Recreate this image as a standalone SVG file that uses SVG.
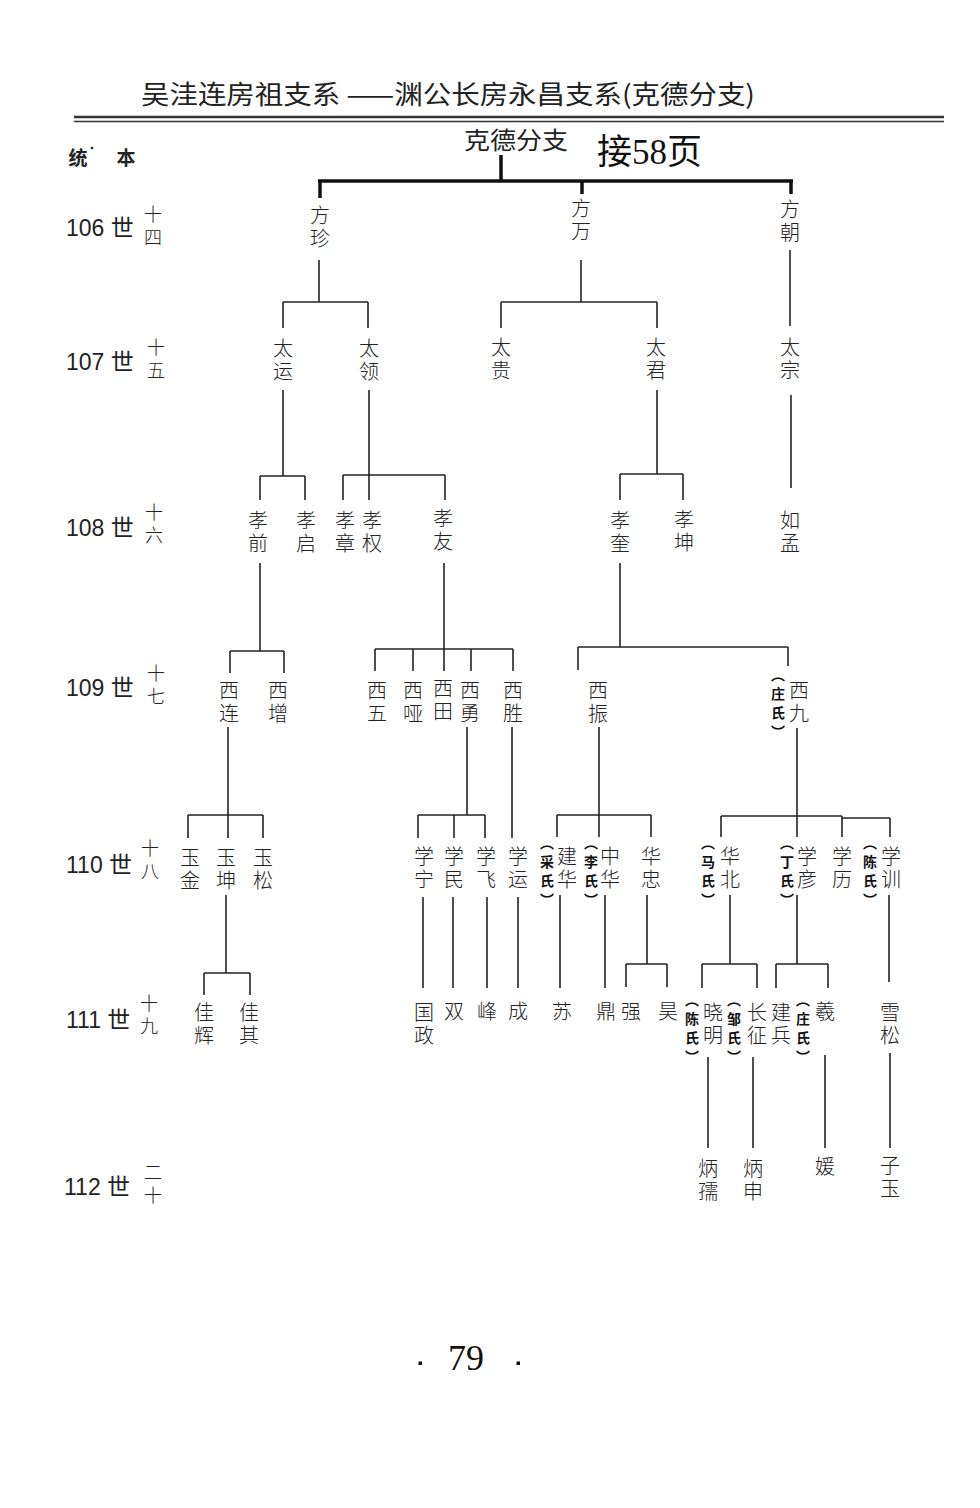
<svg xmlns="http://www.w3.org/2000/svg" width="980" height="1508" viewBox="0 0 980 1508">
<style>
.n{font-family:"Noto Sans CJK SC","Noto Sans CJK TC",sans-serif;font-size:20px;font-weight:300;fill:#222;text-anchor:middle;writing-mode:vertical-rl;letter-spacing:3px}
.sp{font-family:"Noto Sans CJK SC",sans-serif;font-size:14px;font-weight:700;fill:#111;text-anchor:middle;writing-mode:vertical-rl;letter-spacing:5px}
.g{font-family:"Liberation Sans","Noto Sans CJK SC",sans-serif;font-size:23px;fill:#222}
.gs{font-family:"Noto Sans CJK SC",sans-serif;font-size:18px;font-weight:300;fill:#222;text-anchor:middle;writing-mode:vertical-rl;letter-spacing:5px}
.c line{stroke:#222;stroke-width:1.6}
.t line{stroke:#111;stroke-width:3.5}
</style>
<rect width="980" height="1508" fill="#fff"/>
<g id="header">
<text x="141" y="104" textLength="614" lengthAdjust="spacingAndGlyphs" style="font-family:'Noto Sans CJK SC',sans-serif;font-size:26px;fill:#222">吴洼连房祖支系 ——渊公长房永昌支系(克德分支)</text>
<line x1="74" y1="117" x2="944" y2="117" stroke="#333" stroke-width="2.5"/>
<line x1="74" y1="121.5" x2="944" y2="121.5" stroke="#333" stroke-width="1.5"/>
<text x="78" y="165" text-anchor="middle" style="font-family:'Noto Sans CJK SC',sans-serif;font-size:19px;font-weight:700;fill:#222">统</text>
<circle cx="92" cy="148" r="1.3" fill="#222"/>
<text x="126" y="165" text-anchor="middle" style="font-family:'Noto Sans CJK SC',sans-serif;font-size:19px;font-weight:700;fill:#222">本</text>
<text x="464" y="149" textLength="104" lengthAdjust="spacingAndGlyphs" style="font-family:'Noto Sans CJK SC',sans-serif;font-size:24px;fill:#222">克德分支</text>
<text x="597" y="164" style="font-family:'Liberation Serif','Noto Sans CJK SC',serif;font-size:35px;fill:#111"><tspan>接</tspan><tspan style="font-family:'Liberation Serif',serif">58</tspan><tspan>页</tspan></text>
</g>
<g id="generations">
<text class="g" x="66" y="236">106 世</text><text class="gs" x="153" y="228">十四</text>
<text class="g" x="66" y="370">107 世</text><text class="gs" x="156" y="361">十五</text>
<text class="g" x="66" y="536">108 世</text><text class="gs" x="154" y="526">十六</text>
<text class="g" x="66" y="696">109 世</text><text class="gs" x="156" y="687">十七</text>
<text class="g" x="66" y="873">110 世</text><text class="gs" x="150" y="862">十八</text>
<text class="g" x="66" y="1028">111 世</text><text class="gs" x="149" y="1017">十九</text>
<text class="g" x="64" y="1195">112 世</text><text class="gs" x="153" y="1186">二十</text>
</g>
<g id="connectors">
<g class="t">
<line x1="501" y1="155" x2="501" y2="181"/>
<line x1="318" y1="181" x2="793" y2="181"/>
<line x1="320" y1="181" x2="320" y2="198"/>
<line x1="582" y1="181" x2="582" y2="194"/>
<line x1="791" y1="181" x2="791" y2="194"/>
</g>
<g class="c">
<line x1="319" y1="260" x2="319" y2="302"/><line x1="283" y1="302" x2="368" y2="302"/><line x1="283" y1="302" x2="283" y2="328"/><line x1="368" y1="302" x2="368" y2="328"/>
<line x1="581" y1="260" x2="581" y2="302"/><line x1="501" y1="302" x2="657" y2="302"/><line x1="501" y1="302" x2="501" y2="328"/><line x1="657" y1="302" x2="657" y2="328"/>
<line x1="790" y1="250" x2="790" y2="326"/>
<line x1="283" y1="390" x2="283" y2="476"/><line x1="260" y1="476" x2="305" y2="476"/><line x1="260" y1="476" x2="260" y2="500"/><line x1="305" y1="476" x2="305" y2="500"/>
<line x1="369" y1="390" x2="369" y2="500"/><line x1="343" y1="475" x2="445" y2="475"/><line x1="343" y1="475" x2="343" y2="500"/><line x1="445" y1="475" x2="445" y2="500"/>
<line x1="657" y1="390" x2="657" y2="474"/><line x1="620" y1="474" x2="683" y2="474"/><line x1="620" y1="474" x2="620" y2="500"/><line x1="683" y1="474" x2="683" y2="500"/>
<line x1="791" y1="395" x2="791" y2="488"/>
<line x1="260" y1="563" x2="260" y2="651"/><line x1="230" y1="651" x2="284" y2="651"/><line x1="230" y1="651" x2="230" y2="673"/><line x1="284" y1="651" x2="284" y2="673"/>
<line x1="444" y1="563" x2="444" y2="671"/><line x1="375" y1="649" x2="513" y2="649"/><line x1="375" y1="649" x2="375" y2="671"/><line x1="413" y1="649" x2="413" y2="671"/><line x1="471" y1="649" x2="471" y2="671"/><line x1="513" y1="649" x2="513" y2="671"/>
<line x1="620" y1="563" x2="620" y2="647"/><line x1="578" y1="647" x2="788" y2="647"/><line x1="578" y1="647" x2="578" y2="670"/><line x1="788" y1="647" x2="788" y2="666"/>
<line x1="228" y1="727" x2="228" y2="838"/><line x1="188" y1="815" x2="263" y2="815"/><line x1="188" y1="815" x2="188" y2="838"/><line x1="263" y1="815" x2="263" y2="838"/>
<line x1="467" y1="727" x2="467" y2="815"/><line x1="418" y1="815" x2="485" y2="815"/><line x1="418" y1="815" x2="418" y2="838"/><line x1="454" y1="815" x2="454" y2="838"/><line x1="485" y1="815" x2="485" y2="838"/>
<line x1="512" y1="727" x2="512" y2="838"/>
<line x1="599" y1="727" x2="599" y2="837"/><line x1="557" y1="815" x2="651" y2="815"/><line x1="557" y1="815" x2="557" y2="837"/><line x1="651" y1="815" x2="651" y2="837"/>
<line x1="797" y1="728" x2="797" y2="837"/><line x1="721" y1="816" x2="842" y2="816"/><line x1="842" y1="818" x2="890" y2="818"/><line x1="721" y1="816" x2="721" y2="837"/><line x1="842" y1="816" x2="842" y2="837"/><line x1="890" y1="818" x2="890" y2="837"/>
<line x1="226" y1="895" x2="226" y2="973"/><line x1="204" y1="973" x2="250" y2="973"/><line x1="204" y1="973" x2="204" y2="995"/><line x1="250" y1="973" x2="250" y2="995"/>
<line x1="423" y1="897" x2="423" y2="988"/>
<line x1="453" y1="897" x2="453" y2="988"/>
<line x1="487" y1="897" x2="487" y2="988"/>
<line x1="518" y1="897" x2="518" y2="988"/>
<line x1="560" y1="895" x2="560" y2="988"/>
<line x1="605" y1="895" x2="605" y2="988"/>
<line x1="647" y1="895" x2="647" y2="964"/><line x1="626" y1="964" x2="667" y2="964"/><line x1="626" y1="964" x2="626" y2="987"/><line x1="667" y1="964" x2="667" y2="987"/>
<line x1="730" y1="895" x2="730" y2="964"/><line x1="702" y1="964" x2="757" y2="964"/><line x1="702" y1="964" x2="702" y2="988"/><line x1="757" y1="964" x2="757" y2="988"/>
<line x1="797" y1="895" x2="797" y2="964"/><line x1="776" y1="964" x2="828" y2="964"/><line x1="776" y1="964" x2="776" y2="988"/><line x1="828" y1="964" x2="828" y2="988"/>
<line x1="889" y1="895" x2="889" y2="982"/>
<line x1="708" y1="1057" x2="708" y2="1148"/>
<line x1="753" y1="1057" x2="753" y2="1148"/>
<line x1="825" y1="1055" x2="825" y2="1148"/>
<line x1="890" y1="1053" x2="890" y2="1148"/>
</g>
</g>
<g id="n-fangzhen"><text class="n" x="320" y="228">方珍</text></g>
<g id="n-fangwan"><text class="n" x="581" y="221">方万</text></g>
<g id="n-fangchao"><text class="n" x="790" y="222">方朝</text></g>
<g id="n-taiyun"><text class="n" x="283" y="361">太运</text></g>
<g id="n-tailing"><text class="n" x="369" y="361">太领</text></g>
<g id="n-taigui"><text class="n" x="501" y="360">太贵</text></g>
<g id="n-taijun"><text class="n" x="656" y="360">太君</text></g>
<g id="n-taizong"><text class="n" x="790" y="360">太宗</text></g>
<g id="n-xiaoqian"><text class="n" x="258" y="533">孝前</text></g>
<g id="n-xiaoqi"><text class="n" x="306" y="533">孝启</text></g>
<g id="n-xiaozhang"><text class="n" x="345" y="533">孝章</text></g>
<g id="n-xiaoquan"><text class="n" x="372" y="533">孝权</text></g>
<g id="n-xiaoyou"><text class="n" x="443" y="531">孝友</text></g>
<g id="n-xiaokui"><text class="n" x="620" y="533">孝奎</text></g>
<g id="n-xiaokun"><text class="n" x="684" y="532">孝坤</text></g>
<g id="n-rumeng"><text class="n" x="790" y="533">如孟</text></g>
<g id="n-xilian"><text class="n" x="229" y="703">西连</text></g>
<g id="n-xizeng"><text class="n" x="278" y="703">西增</text></g>
<g id="n-xiwu"><text class="n" x="377" y="703">西五</text></g>
<g id="n-xiya"><text class="n" x="413" y="703">西哑</text></g>
<g id="n-xitian"><text class="n" x="443" y="701">西田</text></g>
<g id="n-xiyong"><text class="n" x="470" y="703">西勇</text></g>
<g id="n-xisheng"><text class="n" x="513" y="703">西胜</text></g>
<g id="n-xizhen"><text class="n" x="598" y="703">西振</text></g>
<g id="n-xijiu"><text class="n" x="799" y="703">西九</text><text class="sp" x="778" y="706">（庄氏）</text></g>
<g id="n-yujin"><text class="n" x="190" y="870">玉金</text></g>
<g id="n-yukun"><text class="n" x="226" y="870">玉坤</text></g>
<g id="n-yusong"><text class="n" x="263" y="870">玉松</text></g>
<g id="n-xuening"><text class="n" x="424" y="869">学宁</text></g>
<g id="n-xuemin"><text class="n" x="454" y="869">学民</text></g>
<g id="n-xuefei"><text class="n" x="486" y="869">学飞</text></g>
<g id="n-xueyun"><text class="n" x="518" y="869">学运</text></g>
<g id="n-jianhua"><text class="n" x="567" y="869">建华</text><text class="sp" x="547" y="874">（采氏）</text></g>
<g id="n-zhonghua"><text class="n" x="610" y="869">中华</text><text class="sp" x="591" y="874">（李氏）</text></g>
<g id="n-huazhong"><text class="n" x="651" y="869">华忠</text></g>
<g id="n-huabei"><text class="n" x="730" y="869">华北</text><text class="sp" x="708" y="874">（马氏）</text></g>
<g id="n-xueyan"><text class="n" x="807" y="869">学彦</text><text class="sp" x="787" y="874">（丁氏）</text></g>
<g id="n-xueli"><text class="n" x="842" y="869">学历</text></g>
<g id="n-xuexun"><text class="n" x="891" y="869">学训</text><text class="sp" x="870" y="874">（陈氏）</text></g>
<g id="n-jiahui"><text class="n" x="204" y="1025">佳辉</text></g>
<g id="n-jiaqi"><text class="n" x="249" y="1025">佳其</text></g>
<g id="n-guozheng"><text class="n" x="424" y="1025">国政</text></g>
<g id="n-shuang"><text class="n" x="454" y="1013">双</text></g>
<g id="n-feng"><text class="n" x="487" y="1013">峰</text></g>
<g id="n-cheng"><text class="n" x="518" y="1013">成</text></g>
<g id="n-su"><text class="n" x="562" y="1013">苏</text></g>
<g id="n-ding"><text class="n" x="606" y="1013">鼎</text></g>
<g id="n-qiang"><text class="n" x="631" y="1013">强</text></g>
<g id="n-hao"><text class="n" x="668" y="1013">昊</text></g>
<g id="n-xiaoming"><text class="n" x="713" y="1025">晓明</text><text class="sp" x="692" y="1031">（陈氏）</text></g>
<g id="n-changzheng"><text class="n" x="757" y="1025">长征</text><text class="sp" x="734" y="1031">（邹氏）</text></g>
<g id="n-jianbing"><text class="n" x="781" y="1025">建兵</text></g>
<g id="n-xi"><text class="n" x="825" y="1013">羲</text><text class="sp" x="803" y="1031">（庄氏）</text></g>
<g id="n-xuesong"><text class="n" x="890" y="1025">雪松</text></g>
<g id="n-bingru"><text class="n" x="708" y="1181">炳孺</text></g>
<g id="n-bingshen"><text class="n" x="753" y="1181">炳申</text></g>
<g id="n-yuan"><text class="n" x="825" y="1168">媛</text></g>
<g id="n-ziyu"><text class="n" x="890" y="1178">子玉</text></g>
<g id="footer">
<rect x="418.5" y="1361.5" width="3.5" height="3.5" fill="#111"/>
<text x="466" y="1370" text-anchor="middle" style="font-family:'Liberation Serif',serif;font-size:36px;fill:#111">79</text>
<rect x="516.5" y="1361.5" width="3.5" height="3.5" fill="#111"/>
</g>
</svg>
